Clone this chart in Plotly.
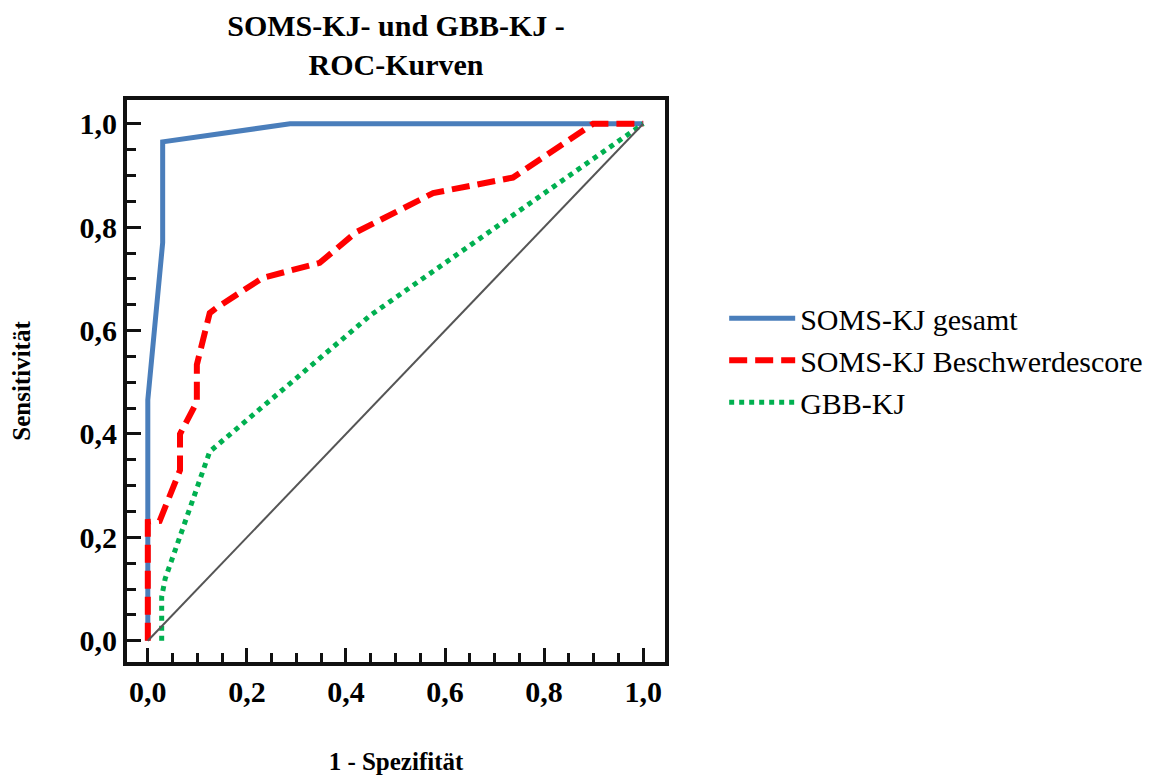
import plotly.graph_objects as go

# Data
gesamt_x = [0.0, 0.0, 0.03, 0.03, 0.287, 1.0]
gesamt_y = [0.0, 0.466, 0.77, 0.965, 1.0, 1.0]

beschwerde_x = [0.0, 0.0, 0.024, 0.065, 0.065, 0.099, 0.099, 0.125, 0.14, 0.232, 0.347, 0.42, 0.576, 0.737, 0.899, 1.0]
beschwerde_y = [0.0, 0.23, 0.232, 0.33, 0.40, 0.462, 0.534, 0.634, 0.645, 0.702, 0.731, 0.79, 0.866, 0.896, 1.0, 1.0]

gbb_x = [0.028, 0.028, 0.035, 0.125, 0.45, 1.0]
gbb_y = [0.0, 0.085, 0.12, 0.366, 0.63, 1.0]

ref_x = [0.0, 1.0]
ref_y = [0.0, 1.0]

tick_vals = [0.0, 0.2, 0.4, 0.6, 0.8, 1.0]

FONT = "Liberation Serif, Times New Roman, serif"

fig = go.Figure()
fig.add_trace(go.Scatter(x=gesamt_x, y=gesamt_y, mode="lines", name="SOMS-KJ gesamt",
                         line=dict(color="#4a7ebb", width=5)))
fig.add_trace(go.Scatter(x=beschwerde_x, y=beschwerde_y, mode="lines", name="SOMS-KJ Beschwerdescore",
                         line=dict(color="#ff0000", width=6, dash="18px,8px")))
fig.add_trace(go.Scatter(x=gbb_x, y=gbb_y, mode="lines", name="GBB-KJ",
                         line=dict(color="#00b050", width=5, dash="5px,5px")))
fig.add_trace(go.Scatter(x=ref_x, y=ref_y, mode="lines", showlegend=False,
                         line=dict(color="#555555", width=2)))

axis_common = dict(
    showgrid=False, zeroline=False,
    showline=True, linecolor="#111111", linewidth=4, mirror=True,
    ticks="inside", ticklen=14, tickwidth=3, tickcolor="#111111",
    tickvals=tick_vals, tickformat=".1f",
    tickfont=dict(family=FONT, size=30, color="black", weight="bold"),
    minor=dict(dtick=0.05, ticks="inside", ticklen=9, tickwidth=3, tickcolor="#111111", showgrid=False),
)

fig.update_xaxes(range=[-0.042, 1.044], title=dict(text="<b>1 - Spezifität</b>", font=dict(family=FONT, size=25, color="black"), standoff=46), **axis_common)
fig.update_yaxes(range=[-0.041, 1.046], title=dict(text="<b>Sensitivität</b>", font=dict(family=FONT, size=25, color="black"), standoff=43), **axis_common)

fig.update_layout(
    width=1175, height=778,
    margin=dict(l=127, r=510, t=100, b=116, autoexpand=False),
    paper_bgcolor="white", plot_bgcolor="white",
    separators=",.",
    title=dict(text="<b>SOMS-KJ- und GBB-KJ -<br>ROC-Kurven</b>", x=(127 + 538 / 2) / 1175, xanchor="center",
               yref="container", y=1 - 36 / 778, yanchor="bottom", font=dict(family=FONT, size=30, color="black")),
    legend=dict(x=1.11, xanchor="left", y=0.658, yanchor="top",
                font=dict(family=FONT, size=30, color="black"),
                bgcolor="rgba(0,0,0,0)", itemwidth=66, tracegroupgap=0),
)

fig.write_html("out.html")
